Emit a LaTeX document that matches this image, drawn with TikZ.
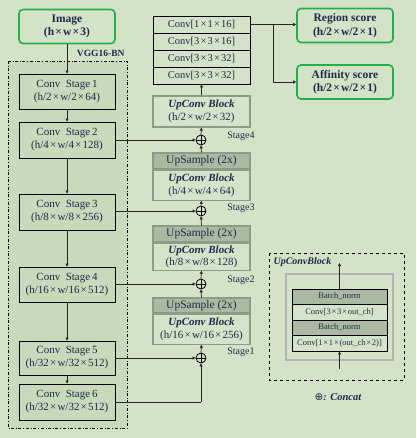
\documentclass[tikz,border=0pt]{standalone}
\usepackage{fontspec}
\setmainfont{Liberation Serif}
\newfontfamily\dejavu{DejaVu Sans}
\usetikzlibrary{arrows.meta}
\definecolor{bg}{HTML}{D4E2C8}
\definecolor{vggbg}{HTML}{C9D9BC}
\definecolor{hdr}{HTML}{ABB9A2}
\definecolor{body}{HTML}{D6E3CB}
\definecolor{gborder}{HTML}{8E9B87}
\definecolor{txt}{HTML}{1C2B48}
\definecolor{grn}{HTML}{22B04A}
\newcommand{\tm}{\kern1.2pt×\kern1.2pt}
\begin{document}
\begin{tikzpicture}[x=1pt,y=-1pt,
  every node/.style={text=txt},
  stagebox/.style={draw=black,line width=0.9pt,minimum width=96pt,minimum height=35pt,inner sep=0pt,align=center,font=\fontsize{11}{13}\selectfont},
  outbox/.style={draw=grn,line width=1.6pt,rounded corners=4pt,minimum width=96pt,minimum height=34pt,inner sep=0pt,align=center,font=\bfseries\fontsize{11.5}{13.5}\selectfont},
  convrow/.style={draw=black,line width=0.9pt,minimum width=97pt,minimum height=17pt,inner sep=0pt,font=\fontsize{10.5}{12}\selectfont},
  hdrrow/.style={draw=gborder,line width=1.2pt,fill=hdr,minimum width=97pt,inner sep=0pt,font=\fontsize{11.5}{13}\selectfont},
  bodyrow/.style={draw=gborder,line width=1.2pt,fill=body,minimum width=97pt,inner sep=0pt,align=center,font=\fontsize{11}{12.5}\selectfont},
  concat/.style={circle,draw=black,line width=0.8pt,minimum size=10pt,inner sep=0pt,
    path picture={\draw[line width=0.8pt] (path picture bounding box.north) -- (path picture bounding box.south)
      (path picture bounding box.west) -- (path picture bounding box.east);}},
  stlabel/.style={font=\fontsize{10}{11}\selectfont},
  arr/.style={-{Triangle[length=3pt,width=3pt]},line width=0.7pt,draw=black!85},
  ln/.style={line width=0.7pt,draw=black!85},
  legrow/.style={draw=black,line width=0.8pt,minimum width=95pt,inner sep=0pt,font=\fontsize{8.5}{9.5}\selectfont}
]
\fill[bg] (0,0) rectangle (416,438);
\useasboundingbox (0,0) rectangle (416,438);

% VGG box
\draw[dash dot,line width=0.8pt,fill=vggbg] (8,61) rectangle (127,428);
\node[anchor=east,font=\bfseries\fontsize{9.5}{11}\selectfont] (vgglab) at (128,53) {VGG16-BN};

% Image
\node[outbox] (img) at (67,26.5) {Image\\(h\tm w\tm 3)};

% Stages
\node[stagebox] (s1) at (67,91.5) {Conv\ \ Stage\,1\\(h/2\tm w/2\tm 64)};
\node[stagebox,minimum height=36pt] (s2) at (67,140) {Conv\ \ Stage\,2\\(h/4\tm w/4\tm 128)};
\node[stagebox,minimum height=36pt] (s3) at (67,212) {Conv\ \ Stage\,3\\(h/8\tm w/8\tm 256)};
\node[stagebox] (s4) at (67,284.5) {Conv\ \ Stage\,4\\(h/16\tm w/16\tm 512)};
\node[stagebox,minimum height=34pt] (s5) at (67,358) {Conv\ \ Stage\,5\\(h/32\tm w/32\tm 512)};
\node[stagebox,minimum height=36pt] (s6) at (67,402) {Conv\ \ Stage\,6\\(h/32\tm w/32\tm 512)};

\draw[arr] (img) -- (s1);
\draw[arr] (s1) -- (s2);
\draw[arr] (s2) -- (s3);
\draw[arr] (s3) -- (s4);
\draw[arr] (s4) -- (s5);
\draw[arr] (s5) -- (s6);

% Conv stack
\node[convrow] (c1) at (201.5,24.5) {Conv[1\tm 1\tm 16]};
\node[convrow] (c2) at (201.5,41.5) {Conv[3\tm 3\tm 16]};
\node[convrow] (c3) at (201.5,58.5) {Conv[3\tm 3\tm 32]};
\node[convrow] (c4) at (201.5,75.5) {Conv[3\tm 3\tm 32]};

% Outputs
\node[outbox] (reg) at (345,25.5) {Region score\\(h/2\tm w/2\tm 1)};
\node[outbox] (aff) at (345,82) {Affinity score\\(h/2\tm w/2\tm 1)};
\coordinate (split) at (273,24.5);
\draw[arr] (c1.east) -- (reg.west |- c1.east);
\draw[arr] (split) |- (aff.west);

% UpConv top block
\node[bodyrow,minimum height=31pt] (u4) at (201.5,111.5) {\textbf{\textit{UpConv Block}}\\(h/2\tm w/2\tm 32)};
\draw[arr] (u4) -- (c4);

% Block 3
\node[hdrrow,minimum height=16pt] (h3) at (201.5,161) {UpSample (2x)};
\node[bodyrow,minimum height=30pt,anchor=north] (b3) at (h3.south) {\textbf{\textit{UpConv Block}}\\(h/4\tm w/4\tm 64)};
% Block 2
\node[hdrrow,minimum height=16pt] (h2) at (201.5,234) {UpSample (2x)};
\node[bodyrow,minimum height=27pt,anchor=north] (b2) at (h2.south) {\textbf{\textit{UpConv Block}}\\(h/8\tm w/8\tm 128)};
% Block 1
\node[hdrrow,minimum height=15pt] (h1) at (201.5,305.5) {UpSample (2x)};
\node[bodyrow,minimum height=30pt,anchor=north] (b1) at (h1.south) {\textbf{\textit{UpConv Block}}\\(h/16\tm w/16\tm 256)};

% Concat circles
\node[concat] (o4) at (201,140) {};
\node[concat] (o3) at (201,211) {};
\node[concat] (o2) at (201,284) {};
\node[concat] (o1) at (201,358) {};
\coordinate (corner) at (201,402);

\node[stlabel] (l4) at (241,136) {Stage4};
\node[stlabel] (l3) at (241,208) {Stage3};
\node[stlabel] (l2) at (241,280) {Stage2};
\node[stlabel] (l1) at (241,352) {Stage1};

\draw[arr] (s2.east) -- (o4.west);
\draw[arr] (s3.east |- o3) -- (o3.west);
\draw[arr] (s4.east |- o2) -- (o2.west);
\draw[arr] (s5.east |- o1) -- (o1.west);
\draw[ln] (s6.east) -- (corner);
\draw[arr] (corner) -- (o1.south);

\draw[arr] (o1.north) -- (b1.south);
\draw[arr] (h1.north) -- (o2.south);
\draw[arr] (o2.north) -- (b2.south);
\draw[arr] (h2.north) -- (o3.south);
\draw[arr] (o3.north) -- (b3.south);
\draw[arr] (h3.north) -- (o4.south);
\draw[arr] (o4.north) -- (u4.south);

% Legend
\draw[dashed,line width=0.8pt] (269,253) rectangle (404,380);
\node[anchor=west,font=\bfseries\itshape\fontsize{10}{11}\selectfont] (leglab) at (270,262) {UpConvBlock};
\draw[draw=black!30,line width=2pt] (286,274) rectangle (393,360);
\node[legrow,fill=hdr,minimum height=15pt] (r1) at (339.5,296.5) {Batch\_norm};
\node[legrow,fill=body,minimum height=16pt] (r2) at (339.5,312) {Conv[3\kern0.8pt×\kern0.8pt3\kern0.8pt×\kern0.8pt out\_ch]};
\node[legrow,fill=hdr,minimum height=15pt] (r3) at (339.5,327.5) {Batch\_norm};
\node[legrow,fill=body,minimum height=16pt] (r4) at (339.5,343) {Conv[1\kern0.8pt×\kern0.8pt1\kern0.8pt×\kern0.8pt(out\_ch\kern0.8pt×\kern0.8pt2)]};
\coordinate (legtop) at (339.5,263);
\coordinate (legbot) at (339.5,369);
\draw[arr] (r1.north) -- (legtop);
\draw[arr] (legbot) -- (r4.south);

\node[font=\fontsize{10.5}{12}\selectfont] (conlab) at (338,397) {{\dejavu ⊕}\textbf{\textit{: Concat}}};
\end{tikzpicture}
\end{document}
